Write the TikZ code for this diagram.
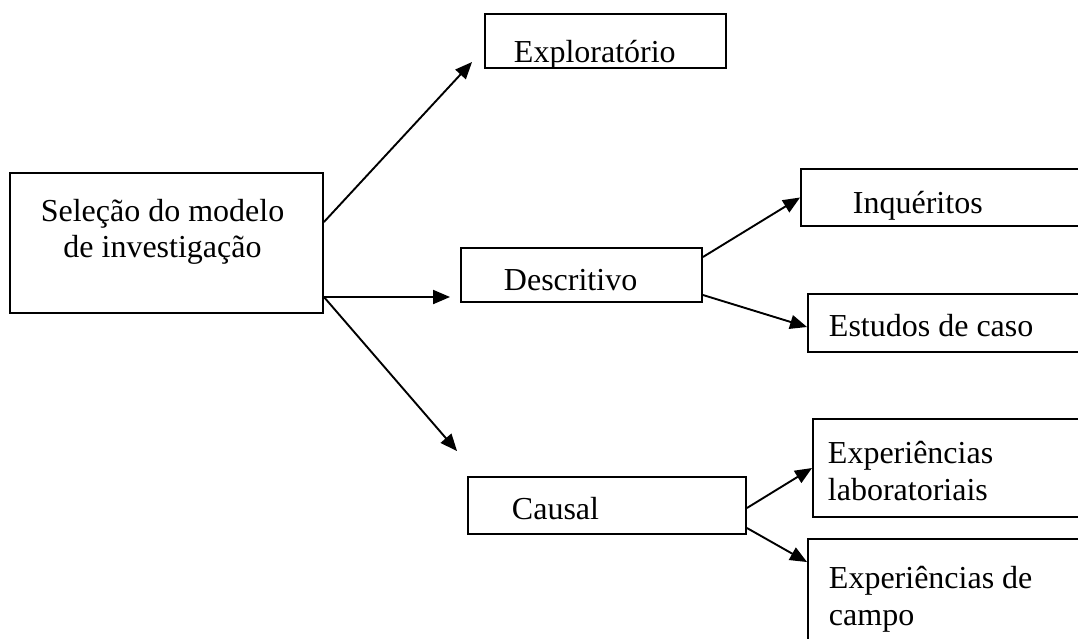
\documentclass[tikz,border=0pt]{standalone}
\usepackage{fontspec}
\setmainfont{Liberation Serif}
\usetikzlibrary{arrows.meta}

\begin{document}
\begin{tikzpicture}[x=1pt, y=-1pt, line width=1.9pt,
  box/.style={draw, inner sep=0pt},
  txt/.style={inner sep=0pt, anchor=base west, font=\fontsize{32}{36.5}\selectfont},
  seta/.style={-{Triangle[length=17pt,width=14pt]}}]

  % tamanho fixo da folha
  \useasboundingbox (0,0) rectangle (1078,638);

  %% ==== caixas ====
  \node[box, minimum width=313pt, minimum height=140pt] (sel)    at (166.5,243)   {};
  \node[box, minimum width=241pt, minimum height=54pt]  (expl)   at (605.5,41)    {};
  \node[box, minimum width=241pt, minimum height=54pt]  (desc)   at (581.5,275)   {};
  \node[box, minimum width=278pt, minimum height=57pt]  (causal) at (607,505.5)   {};
  % caixas da direita: saem da folha
  \node[box, minimum width=289pt, minimum height=57pt]  (inq)    at (945.5,197.5) {};
  \node[box, minimum width=282pt, minimum height=58pt]  (est)    at (949,323)     {};
  \node[box, minimum width=277pt, minimum height=98pt]  (lab)    at (951.5,468)   {};
  \node[box, minimum width=282pt, minimum height=121pt] (campo)  at (949,599.5)   {};

  %% ==== textos ====
  \node[txt, anchor=center, align=center] (sel-t) at (162.5,232) {Seleção do modelo\\de investigação};
  \node[txt] (expl-t)   at (513,62)  {Exploratório};
  \node[txt] (desc-t)   at (503,290) {Descritivo};
  \node[txt] (causal-t) at (511,519) {Causal};
  \node[txt] (inq-t)    at (852,213) {Inquéritos};
  \node[txt] (est-t)    at (828,336) {Estudos de caso};
  % base = linha de baixo
  \node[txt, align=left] (lab-t)   at (827,500) {Experiências\\laboratoriais};
  \node[txt, align=left] (campo-t) at (828,625) {Experiências de\\campo};

  %% ==== setas ====
  \draw[seta] ([yshift=21pt]sel.east)    -- ([xshift=-12pt,yshift=-21pt]expl.west);
  \draw[seta] ([yshift=-54pt]sel.east)   -- ([xshift=-10pt,yshift=-22pt]desc.west);
  \draw[seta] ([yshift=-54pt]sel.east)   -- ([xshift=-10pt,yshift=25pt]causal.north west);
  \draw[seta] ([yshift=18pt]desc.east)   -- (inq.west);
  \draw[seta] ([yshift=-20pt]desc.east)  -- ([yshift=-4pt]est.west);
  \draw[seta] ([yshift=-2.5pt]causal.east)  -- (lab.west);
  \draw[seta] ([yshift=-22.5pt]causal.east) -- ([yshift=-24pt]campo.north west);
\end{tikzpicture}
\end{document}
